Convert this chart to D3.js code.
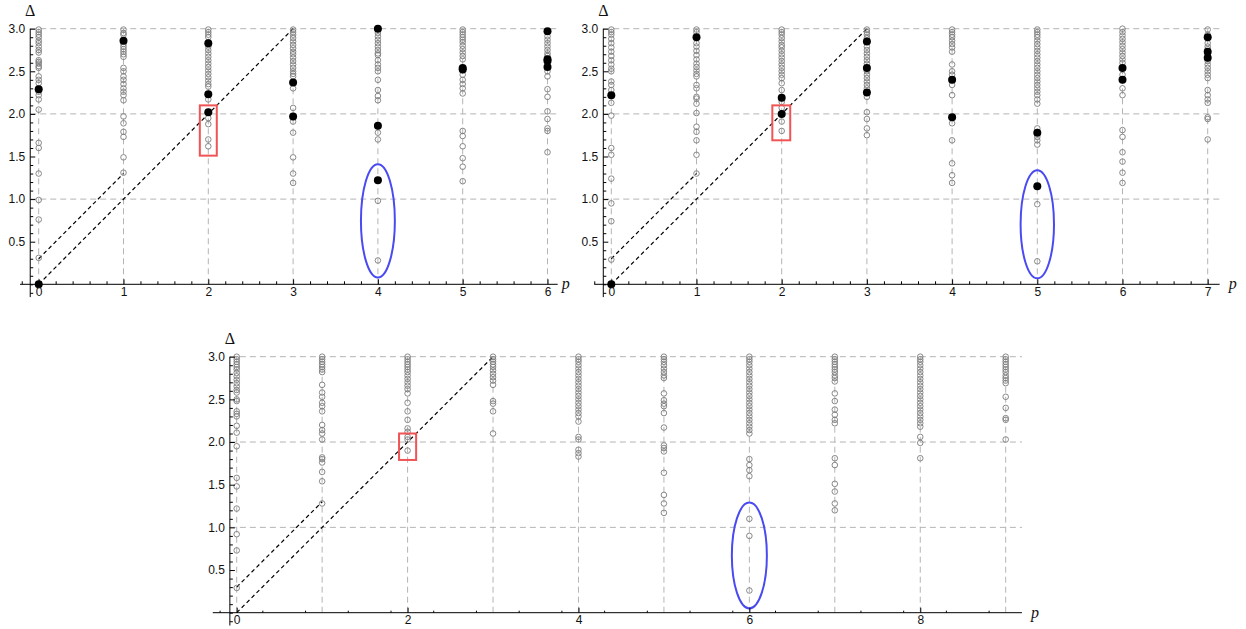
<!DOCTYPE html>
<html lang="en">
<head>
<meta charset="utf-8">
<title>Delta vs p spectra</title>
<script src="https://cdn.jsdelivr.net/npm/d3@7"></script>
<style>
body { margin: 0; background: #fff; }
.grid line { stroke: #b4b4b4; stroke-dasharray: 6,4; stroke-width: 1; }
.diag { stroke: #000; stroke-dasharray: 4,3; stroke-width: 1.2; fill: none; }
.open { fill: none; stroke: #7c7c7c; stroke-width: 0.9; }
.full { fill: #000; }
.axis text { font-family: "Liberation Sans", Arial, sans-serif; font-size: 12px; fill: #111; }
.axis line { stroke: #000; }
.axisline { stroke: #000; stroke-width: 1; }
.lbl { font-family: "Liberation Serif", "DejaVu Serif", serif; font-size: 16px; fill: #111; }
</style>
</head>
<body>
<div id="chart"></div>
<script>
// ---- data, one array per column p = 0,1,2,...
var p1Open = [
  [2.99,2.96,2.93,2.90,2.86,2.83,2.79,2.75,2.72,2.63,2.61,2.59,2.56,2.54,2.44,2.40,2.36,2.26,2.22,2.17,2.05,1.66,1.60,1.30,0.99,0.76,0.31],
  [2.99,2.95,2.93,2.82,2.79,2.76,2.73,2.70,2.67,2.54,2.50,2.44,2.40,2.35,2.30,2.26,2.22,2.16,1.97,1.89,1.79,1.73,1.49,1.31],
  [2.99,2.96,2.93,2.90,2.79,2.75,2.71,2.67,2.63,2.59,2.55,2.51,2.47,2.43,2.39,2.35,2.32,2.17,1.95,1.88,1.70,1.62],
  [2.99,2.96,2.93,2.89,2.85,2.81,2.77,2.73,2.70,2.66,2.62,2.58,2.54,2.50,2.47,2.44,2.30,2.07,1.91,1.78,1.49,1.30,1.19],
  [2.95,2.91,2.87,2.83,2.79,2.75,2.71,2.69,2.63,2.58,2.54,2.50,2.40,2.28,2.21,2.16,1.78,1.70,0.98,0.28],
  [2.99,2.96,2.93,2.90,2.87,2.84,2.80,2.76,2.72,2.68,2.64,2.46,2.40,2.35,2.30,2.24,1.80,1.74,1.62,1.48,1.38,1.21],
  [2.91,2.87,2.83,2.79,2.75,2.71,2.68,2.50,2.44,2.29,2.20,2.03,1.94,1.83,1.80,1.55]
];
var p1Filled = [[2.29,0],[2.86],[2.83,2.23,2.02],[2.37,1.97],[3.0,1.86,1.22],[2.54,2.52],[2.97,2.64,2.62,2.55]];

var p2Open = [
  [2.99,2.96,2.93,2.88,2.83,2.78,2.73,2.68,2.63,2.58,2.53,2.50,2.38,2.34,2.28,2.13,1.98,1.60,1.52,1.24,0.95,0.74,0.29],
  [2.99,2.96,2.83,2.79,2.74,2.69,2.64,2.59,2.55,2.51,2.47,2.44,2.34,2.30,2.20,2.18,2.12,2.01,1.85,1.79,1.69,1.52,1.30],
  [2.99,2.96,2.93,2.89,2.85,2.81,2.78,2.74,2.70,2.66,2.62,2.58,2.54,2.50,2.46,2.42,2.36,2.28,2.14,2.07,1.91,1.80],
  [2.99,2.96,2.93,2.89,2.79,2.75,2.71,2.67,2.63,2.59,2.50,2.46,2.42,2.38,2.34,2.30,2.20,2.02,1.94,1.83,1.75],
  [2.99,2.96,2.93,2.90,2.86,2.82,2.78,2.73,2.58,2.50,2.46,2.34,2.22,1.89,1.69,1.42,1.28,1.19],
  [2.99,2.96,2.93,2.90,2.86,2.82,2.78,2.74,2.70,2.66,2.62,2.58,2.54,2.50,2.46,2.42,2.38,2.34,2.30,2.26,2.22,2.17,2.12,1.83,1.73,1.69,1.64,0.94,0.27],
  [3.0,2.96,2.92,2.88,2.84,2.80,2.76,2.72,2.68,2.64,2.60,2.46,2.30,2.22,1.81,1.73,1.55,1.44,1.31,1.19],
  [2.99,2.93,2.83,2.79,2.76,2.70,2.62,2.58,2.54,2.50,2.46,2.42,2.28,2.22,2.17,2.13,1.96,1.94,1.70]
];
var p2Filled = [[2.22,0],[2.90],[2.19,2.00],[2.85,2.54,2.25],[2.40,1.96],[1.78,1.15],[2.54,2.40],[2.90,2.73,2.66]];

var p3Open = [
  [3.0,2.97,2.94,2.91,2.88,2.85,2.81,2.77,2.73,2.69,2.65,2.61,2.58,2.50,2.48,2.36,2.33,2.30,2.19,2.11,1.95,1.58,1.48,1.22,0.92,0.73,0.29],
  [3.0,2.97,2.94,2.91,2.88,2.85,2.82,2.67,2.58,2.53,2.46,2.42,2.36,2.20,2.14,2.10,2.03,1.82,1.80,1.76,1.65,1.54,1.28],
  [3.0,2.97,2.94,2.91,2.88,2.85,2.82,2.78,2.74,2.70,2.66,2.62,2.57,2.46,2.36,2.26,2.16,2.12,2.06,2.03,1.90],
  [3.0,2.97,2.94,2.91,2.88,2.84,2.80,2.76,2.72,2.67,2.48,2.45,2.36,2.10],
  [3.0,2.97,2.94,2.90,2.86,2.82,2.78,2.74,2.70,2.66,2.62,2.58,2.54,2.50,2.46,2.42,2.38,2.34,2.30,2.24,2.06,2.03,1.91,1.87,1.83],
  [3.0,2.97,2.94,2.90,2.86,2.82,2.78,2.75,2.57,2.49,2.45,2.42,2.34,2.17,1.96,1.93,1.89,1.64,1.38,1.28,1.17],
  [3.0,2.97,2.94,2.90,2.86,2.82,2.78,2.74,2.70,2.66,2.62,2.58,2.54,2.50,2.46,2.42,2.38,2.34,2.30,2.26,2.22,2.18,2.14,2.10,1.80,1.73,1.67,1.60,1.10,0.90,0.26],
  [3.0,2.97,2.94,2.91,2.88,2.85,2.82,2.78,2.75,2.71,2.57,2.48,2.38,2.32,2.26,2.22,1.81,1.73,1.51,1.42,1.28,1.20],
  [3.0,2.97,2.94,2.90,2.86,2.82,2.78,2.74,2.70,2.66,2.62,2.58,2.54,2.50,2.46,2.42,2.38,2.34,2.30,2.26,2.22,2.18,2.06,1.99,1.81],
  [3.0,2.97,2.94,2.91,2.88,2.85,2.82,2.78,2.75,2.72,2.69,2.53,2.40,2.28,2.26,2.03]
];
var p3Filled = [[],[],[],[],[],[],[],[],[],[]];

// dashed reference lines: [p0, d0, p1, d1]
var diagLines = [[0, 0, 3, 3], [0, 0.3, 1, 1.3]];
var yTicks = [0.5, 1, 1.5, 2, 2.5, 3];
var gridY = [1, 2, 3];

// highlight marks per panel: box [pLo, pHi, dLo, dHi], ellipse [p, d, rp, rd]
var boxes = [[1.9, 2.1, 1.51, 2.1], [1.89, 2.1, 1.69, 2.1], [1.9, 2.1, 1.79, 2.1]];
var ellipses = [[4, 0.745, 0.2, 0.665], [5, 0.705, 0.196, 0.635], [6, 0.67, 0.205, 0.62]];

// ---- layout
var panels = [
  {open: p1Open, filled: p1Filled, pMax: 6, xr: [38.7, 547.5], yr: [284.3, 28.7], xExt: [-0.22, 6.12], yAt: -0.1, major: 1, minor: 0.2, minorLen: 3, pDx: 4, deltaY: 16},
  {open: p2Open, filled: p2Filled, pMax: 7, xr: [611.3, 1207.7], yr: [284.3, 28.7], xExt: [-0.2, 7.14], yAt: -0.094, major: 1, minor: 0.2, minorLen: 3, pDx: 9, deltaY: 16},
  {open: p3Open, filled: p3Filled, pMax: 9, xr: [236.7, 1005.7], yr: [612.7, 356.7], xExt: [-0.28, 9.19], yAt: -0.08, major: 2, minor: 0.5, minorLen: 2, pDx: 9, deltaY: 344}
];

var svg = d3.select("#chart").append("svg")
    .attr("width", 1246)
    .attr("height", 629);

panels.forEach(function(P, i) {
  var x = d3.scaleLinear().domain([0, P.pMax]).range(P.xr);
  var y = d3.scaleLinear().domain([0, 3]).range(P.yr);
  var g = svg.append("g");
  var cols = d3.range(0, P.pMax + 1);

  // grid
  var grid = g.append("g").attr("class", "grid");
  grid.selectAll(".gh").data(gridY).enter().append("line")
      .attr("x1", x(P.yAt)).attr("x2", x(P.xExt[1]))
      .attr("y1", function(d) { return y(d); }).attr("y2", function(d) { return y(d); });
  grid.selectAll(".gv").data(cols).enter().append("line")
      .attr("x1", function(d) { return x(d); }).attr("x2", function(d) { return x(d); })
      .attr("y1", y(0)).attr("y2", y(3));

  // diagonal dashed lines
  g.selectAll(".diag").data(diagLines).enter().append("line")
      .attr("class", "diag")
      .attr("x1", function(d) { return x(d[0]); }).attr("y1", function(d) { return y(d[1]); })
      .attr("x2", function(d) { return x(d[2]); }).attr("y2", function(d) { return y(d[3]); });

  // points
  var openPts = [], fullPts = [];
  P.open.forEach(function(arr, p) { arr.forEach(function(v) { openPts.push([p, v]); }); });
  P.filled.forEach(function(arr, p) { arr.forEach(function(v) { fullPts.push([p, v]); }); });

  g.selectAll(".open").data(openPts).enter().append("circle")
      .attr("class", "open")
      .attr("cx", function(d) { return x(d[0]); })
      .attr("cy", function(d) { return y(d[1]); })
      .attr("r", 2.8);
  g.selectAll(".full").data(fullPts).enter().append("circle")
      .attr("class", "full")
      .attr("cx", function(d) { return x(d[0]); })
      .attr("cy", function(d) { return y(d[1]); })
      .attr("r", 4);

  // annotations
  var b = boxes[i];
  g.append("rect")
      .attr("x", x(b[0])).attr("y", y(b[3]))
      .attr("width", x(b[1]) - x(b[0])).attr("height", y(b[2]) - y(b[3]))
      .attr("fill", "none").attr("stroke", "#f05454").attr("stroke-width", 2);
  var e = ellipses[i];
  g.append("ellipse")
      .attr("cx", x(e[0])).attr("cy", y(e[1]))
      .attr("rx", x(e[2]) - x(0)).attr("ry", y(0) - y(e[3]))
      .attr("fill", "none").attr("stroke", "#4a4af2").attr("stroke-width", 2);

  // axes lines
  g.append("line").attr("class", "axisline")
      .attr("x1", x(P.xExt[0])).attr("x2", x(P.xExt[1]))
      .attr("y1", y(0)).attr("y2", y(0));
  g.append("line").attr("class", "axisline")
      .attr("x1", x(P.yAt)).attr("x2", x(P.yAt))
      .attr("y1", y(-0.15)).attr("y2", y(3));

  // x ticks
  var xMajor = d3.range(0, P.pMax + 0.001, P.major);
  var xMinor = d3.range(-0.2, P.xExt[1], P.minor).filter(function(v) {
    return Math.abs(v / P.major - Math.round(v / P.major)) > 0.01;
  });
  var xa = g.append("g").attr("class", "axis")
      .attr("transform", "translate(0," + y(0) + ")")
      .call(d3.axisBottom(x).tickValues(xMajor).tickFormat(d3.format("d")).tickSize(-5).tickPadding(3));
  xa.select(".domain").remove();
  var xm = g.append("g").attr("class", "axis")
      .attr("transform", "translate(0," + y(0) + ")")
      .call(d3.axisBottom(x).tickValues(xMinor).tickFormat("").tickSize(-P.minorLen));
  xm.select(".domain").remove();

  // y ticks
  var yMinor = d3.range(-0.1, 3.001, 0.1).filter(function(v) {
    return Math.abs(v * 2 - Math.round(v * 2)) > 0.01 || Math.abs(v) < 0.01;
  });
  var ya = g.append("g").attr("class", "axis")
      .attr("transform", "translate(" + x(P.yAt) + ",0)")
      .call(d3.axisLeft(y).tickValues(yTicks).tickFormat(d3.format(".1f")).tickSize(-5).tickPadding(5));
  ya.select(".domain").remove();
  var ym = g.append("g").attr("class", "axis")
      .attr("transform", "translate(" + x(P.yAt) + ",0)")
      .call(d3.axisLeft(y).tickValues(yMinor).tickFormat("").tickSize(-3));
  ym.select(".domain").remove();

  // axis labels
  g.append("text").attr("class", "lbl")
      .attr("x", x(P.yAt)).attr("y", P.deltaY)
      .attr("text-anchor", "middle")
      .text("\u0394");
  g.append("text").attr("class", "lbl")
      .attr("x", x(P.xExt[1]) + P.pDx).attr("y", y(0) + 5)
      .attr("font-style", "italic")
      .text("p");
});
</script>
</body>
</html>
